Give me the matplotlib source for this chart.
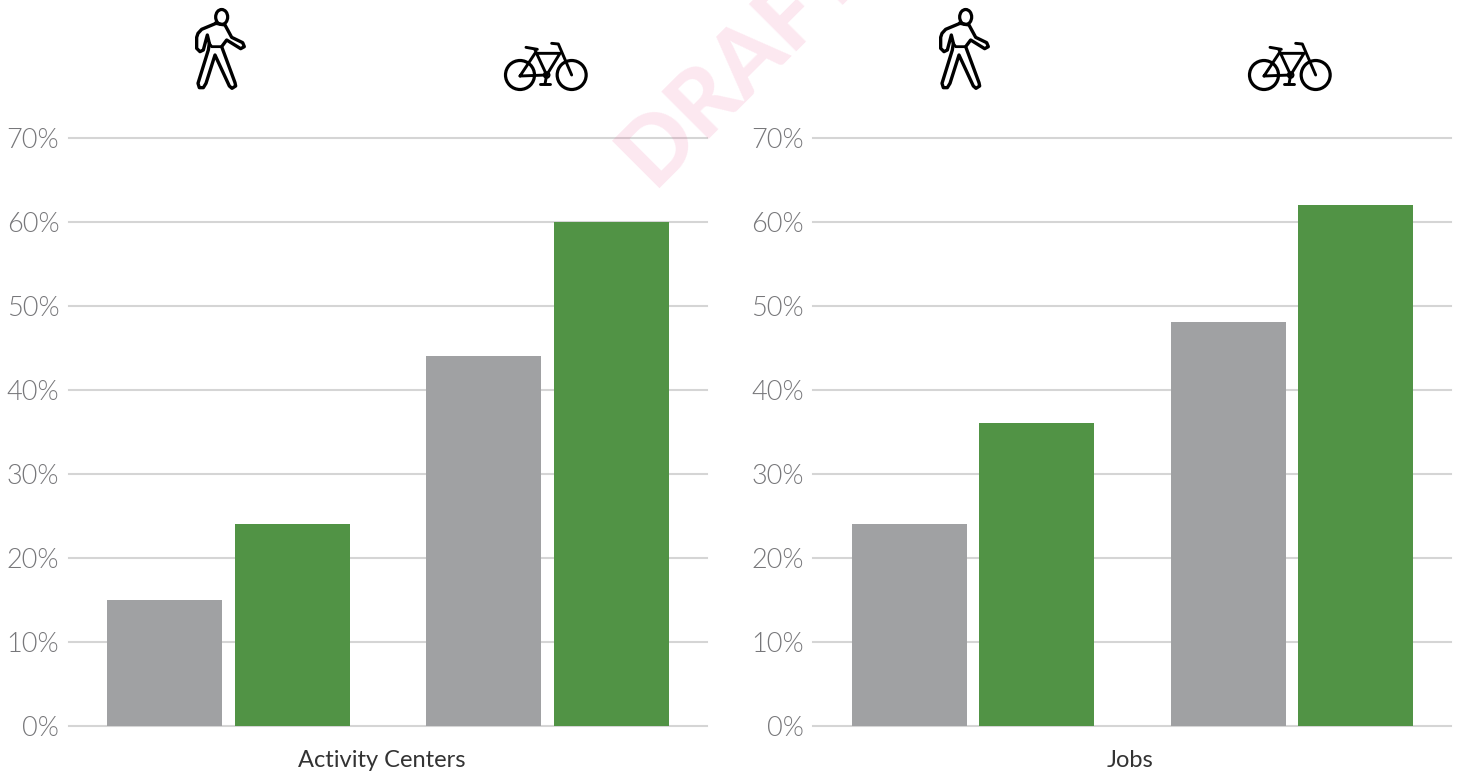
import matplotlib
matplotlib.use('Agg')
import matplotlib.pyplot as plt
from matplotlib import font_manager as fm
from matplotlib.patches import Ellipse, Circle

plt.rcParams['font.family'] = ['Lato', 'DejaVu Sans']

groups = ['walk', 'bike']
activity_gray = [15, 44]
activity_green = [24, 60]
jobs_gray = [24, 48.1]
jobs_green = [36.1, 62]
yticks = [0, 10, 20, 30, 40, 50, 60, 70]
ylabels = ['0%', '10%', '20%', '30%', '40%', '50%', '60%', '70%']

GRAY = '#a0a1a3'
GREEN = '#519345'
W, H = 1460, 777

# Lato Light by file, asking for weight light lands on Hairline
light_files = [f.fname for f in fm.fontManager.ttflist
               if f.name == 'Lato' and f.fname.endswith('Lato-Light.ttf')]
if light_files:
    tick_font = fm.FontProperties(fname=light_files[0], size=19.5)
else:
    tick_font = fm.FontProperties(family='Lato', size=19.5)


def panel(left, gray, green, title, title_x):
    ax = fig.add_axes([left / W, (H - 726) / H, 638 / W, 588 / H])
    x = range(len(groups))
    ax.bar([i - 0.2 for i in x], gray, 0.36, color=GRAY, zorder=3)
    ax.bar([i + 0.2 for i in x], green, 0.36, color=GREEN, zorder=3)
    ax.set_xlim(-0.5, 1.5)
    ax.set_ylim(0, 70)
    ax.set_yticks(yticks)
    ax.set_yticklabels(ylabels, color='#77777a')
    for t in ax.get_yticklabels():
        t.set_fontproperties(tick_font)
    ax.set_xticks([title_x])
    ax.set_xticklabels([title], fontsize=17, color='#333333')
    ax.tick_params(axis='y', length=0, pad=7)
    ax.tick_params(axis='x', length=0, pad=17)
    ax.grid(axis='y', color='#d5d5d5', lw=1.5, zorder=0)
    ax.set_axisbelow(True)
    for s in ax.spines.values():
        s.set_visible(False)
    ax.patch.set_alpha(0)
    for line in ax.get_ygridlines():
        line.set_clip_on(False)
    return ax


def px(pts, dx):
    return [170 + p[0] / 3 + dx for p in pts], [p[1] / 3 for p in pts]


def walker(ov, dx):
    ov.add_patch(Ellipse((170 + 155 / 3 + dx, 51 / 3), 12, 15, fill=False, ec='k', lw=2.3))
    body = [(138, 70), (95, 88), (84, 100), (80, 112), (80, 145), (90, 155), (100, 150), (112, 105),
            (118, 130), (115, 150), (84, 250), (88, 263), (100, 263), (108, 250), (135, 165),
            (178, 258), (186, 265), (197, 258), (195, 248), (155, 140), (170, 120), (212, 146),
            (223, 140), (218, 128), (185, 112), (165, 75)]
    xs, ys = px(body + body[:1], dx)
    ov.plot(xs, ys, color='k', lw=2.4, solid_joinstyle='round')
    xs, ys = px([(118, 130), (125, 140), (155, 140)], dx)
    ov.plot(xs, ys, color='k', lw=2.0)


def bike(ov, dx):
    for cx in (1050, 1205):
        ov.add_patch(Circle((170 + cx / 3 + dx, 225 / 3), 14.5, fill=False, ec='k', lw=2.3))
    ov.add_patch(Circle((170 + 1130 / 3 + dx, 225 / 3), 2.7, fill=False, ec='k', lw=1.6))
    parts = [[(1050, 228), (1095, 160), (1170, 160), (1130, 225), (1050, 228)],
             [(1095, 150), (1130, 225)],
             [(1145, 130), (1165, 132), (1205, 225)],
             [(1068, 142), (1102, 148)],
             [(1130, 225), (1125, 252)],
             [(1110, 252), (1140, 252)]]
    for p in parts:
        xs, ys = px(p, dx)
        ov.plot(xs, ys, color='k', lw=2.1, solid_capstyle='round')


fig = plt.figure(figsize=(W / 100, H / 100), dpi=100)
panel(69, activity_gray, activity_green, 'Activity Centers', 0.481)
panel(813.4, jobs_gray, jobs_green, 'Jobs', 0.492)

ov = fig.add_axes([0, 0, 1, 1], zorder=5)
ov.set_xlim(0, W)
ov.set_ylim(H, 0)
ov.axis('off')
for dx in (0, 744):
    walker(ov, dx)
    bike(ov, dx)

fig.text(653 / W, 1 - 188 / H, 'DRAFT', fontsize=66, fontweight='black', color='#ec3d84', alpha=0.12,
         rotation=45, rotation_mode='anchor', ha='left', va='baseline', zorder=6)

fig.savefig('out.png', dpi=100)
